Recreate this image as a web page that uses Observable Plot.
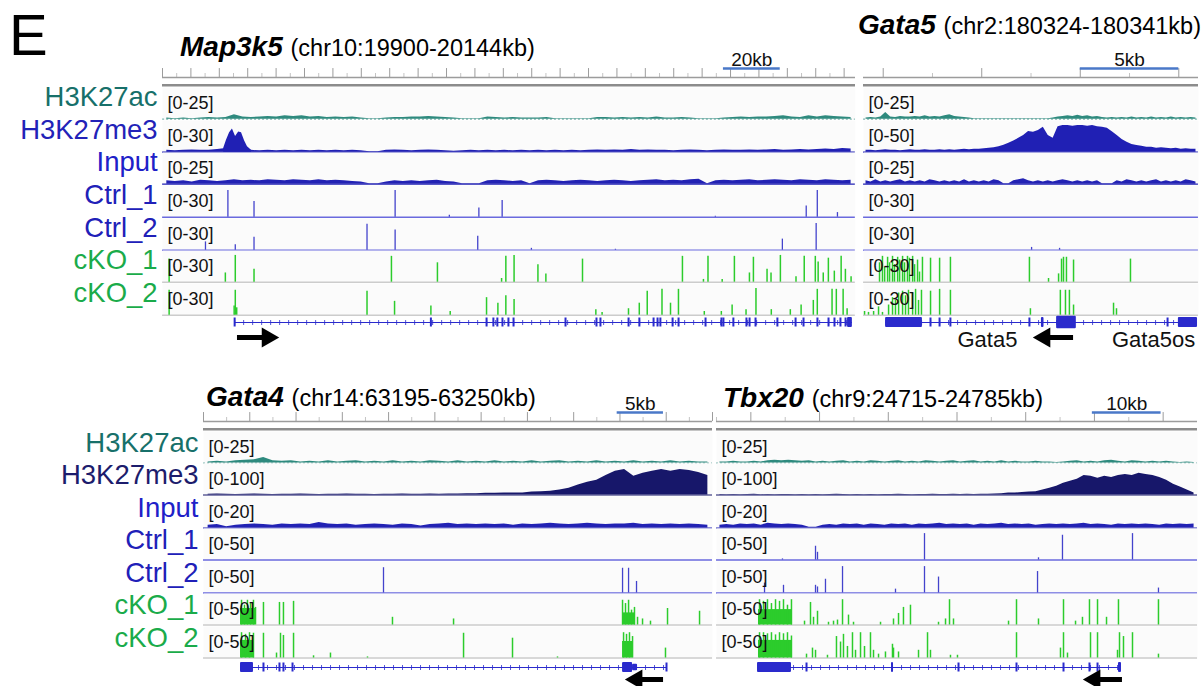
<!DOCTYPE html>
<html><head><meta charset="utf-8">
<script src="https://cdn.jsdelivr.net/npm/d3@7"></script>
<script src="https://cdn.jsdelivr.net/npm/@observablehq/plot@0.6"></script>
<style>
body{margin:0;background:#fff;}
#root{position:relative;width:1203px;height:686px;overflow:hidden;background:#fff;font-family:"Liberation Sans",Arial,sans-serif;}
#root svg{display:block;overflow:visible;}
</style></head>
<body><div id="root"></div>
<script>
// ================= DATA =================
const trackNames = ["H3K27ac","H3K27me3","Input","Ctrl_1","Ctrl_2","cKO_1","cKO_2"];

// ---- Map3k5 (chr10:19900-20144kb); positions = kb offset from window start ----
const map3k5Window = [19900, 20144];
const map3k5Ranges = [25, 30, 25, 30, 30, 30, 30];
const map3k5Ac = [1,0.5,1,0.5,1,1.5,1,1.5,4,2, 1.5,2,2.5,2,3,2.5,3,2,2.5,1.5, 2,1.5,2,1,0.3,0.3,1,1.5,1.5,2, 2,2.5,2,1.5,1,0.3,0.5,0.3,2,1.5, 1,1.5,1,1,1,1.5,0.5,0.3,0.5,0.3, 0.5,1.5,1.5,1,1.5,1,1.5,1,2,1, 1,1.5,1,0.5,0.3,0.5,1,1.5,2,1.5, 2,2,2.5,3,2,1.5,3,2,3,2.5, 2,1.5];
const map3k5Me3 = [2,1.5,2,2.5,2,2,3,4,4,3, 2,1.5,2,1.5,2,1.5,2,1.5,2,1.5, 2,1.5,2,1.5,0.5,0.5,2,2.5,2,1.5, 2,2.5,2,1.5,1,1.5,2,1.5,2,1.5, 2,1.5,2,1.5,2,1.5,2,1.5,2,1.5, 2,2.5,2,2.5,2,3,2,2.5,2,2, 1.5,2,2.5,2,1.5,2,2.5,2,2,2.5, 2,2.5,3,2,2.5,3,2.5,3,3.5,3, 4,3.5];
const map3k5Me3Peak = [[21.5,4],[22.5,13],[23.6,21],[24.6,25],[25.7,17],[26.8,22],[27.8,21],[28.9,12],[29.9,6],[31.3,2]];
const map3k5Input = [3,2.5,3,2,3.5,3,2.5,3,4,3, 3.5,3,4,3.5,3,4,3.5,3,4,3, 3.5,3,2.5,2,0.3,0.3,2,3,2.5,3, 2.5,3,3.5,2.5,2,0.3,0.3,0.3,3,3.5, 3,2.5,3,0.3,3,3.5,3,2.5,3,3.5, 3,2.5,3,3.5,3,2.5,3,3.5,4,3, 3.5,3,4,4.5,0.3,3,3.5,3,3.5,4, 3,3.5,4,3.5,3,4,3.5,3,4,3.5, 3,3.5];
const map3k5Ctrl1 = [[23.0,29],[32.2,17],[81.9,29],[101.0,2],[111.4,10],[119.6,18],[194.7,1],[226.7,12],[230.6,29],[237.7,5]];
const map3k5Ctrl2 = [[15.1,9],[25.6,6],[32.2,14],[72.0,28],[81.9,22],[111.0,15],[129.9,2],[159.5,1],[218.3,12],[230.2,29]];
const map3k5Ko1 = [[2.3,25],[22.1,10],[25.6,29],[32.2,14],[80.6,28],[96.8,21],[119.4,4],[120.9,28],[123.8,29],[132.2,19],[135.0,9],[147.9,25],[183.1,28],[190.5,3],[192.1,28],[197.1,3],[201.4,28],[206.7,10],[208.1,27],[212.9,14],[214.3,10],[217.6,29],[223.1,6],[226.0,28],[229.9,28],[230.9,22],[232.7,10],[234.5,26],[236.6,12],[239.0,28],[240.5,14],[242.5,6]];
const map3k5Ko2 = [[2.3,27],[25.2,10],[25.6,27],[26.1,8],[72.0,26],[81.7,15],[94.5,10],[101.3,4],[114.1,19],[118.1,13],[120.9,21],[123.8,17],[152.6,6],[154.8,3],[164.1,7],[167.9,13],[170.7,26],[175.9,28],[178.9,13],[181.7,28],[190.8,4],[196.8,4],[200.6,11],[205.5,6],[209.0,29],[214.4,6],[221.1,6],[224.9,11],[229.2,16],[230.6,28],[235.8,28],[237.3,28],[239.7,28],[241.1,7]];
const map3k5GeneSpan = [25.4, 242.9];
const map3k5Exons = [25.4,94.5,114.1,116.5,117.9,119.7,121.8,123.6,141.9,152.8,154.2,164.1,167.9,172.9,174.3,175.3,179.6,181.7,191.2,196.8,197.5,201.0,205.6,206.7,208.8,216.5,222.9,225.7,230.6,234.5,236.6,238.7,240.5];
const map3k5Blocks = [[241.2,242.9,"cds"]];
const map3k5Arrow = [26.4, 38.4];
const map3k5ScaleBar = [197.5, 20, "20kb"];

// ---- Gata5 (chr2:180324-180341kb) ----
const gata5Window = [180324, 180341];
const gata5Ranges = [25, 50, 25, 30, 30, 30, 30];
const gata5Ac = [1,1.5,1,2,6,2,1.5,2.5,2,2, 2.5,2,3,2,2.5,2,3,4,2.5,2, 1.5,1,0.3,0.5,0.3,0.5,0.3,0.5,0.3,0.5, 0.3,0.5,0.3,0.5,0.3,0.5,0.3,0.5,1,2, 2.5,3,2.5,3.5,2.5,3,2,2.5,1.5,1, 1.5,1,1.5,1,2,1,1.5,1,2,1, 1.5,1,2,1,1.5,1,1.5,1];
const gata5Me3 = [3.5,3.5,2.7,3.5,4.5,3.5,3.5,2.7,3.5,4.5, 3.5,3.5,4.5,3.5,3.5,4.5,3.5,4.5,3.5,4.5, 5.4,4.5,5.4,5.4,6.3,7,8,10,12.5,16, 20,25,30,37.5,36,39,45,30,25,46, 48,48,47,48,48,47,48,46,45,43, 37,30,23,18,14,12,10.5,9,9,7, 8,7,6.3,7,5.4,6.3,5.4,5.4];
const gata5Input = [3,2,4,2,3,2,3,4,2,3, 2,3,2,4,3,2,3,2,3,2, 4,2,3,2,3,2,4,3,0.5,0.5, 3,4,5,3,2,3,2,3,2,3, 4,3,2,3,2,3,2,3,0.5,0.5, 0.5,3,2,4,3,2,3,2,3,4, 2,3,2,3,2,4,3,2];
const gata5Ctrl1 = [];
const gata5Ctrl2 = [[8.53,3],[9.95,2]];
const gata5Ko1 = [[0.81,21],[0.96,28],[1.07,16],[1.22,27],[1.32,21],[1.47,28],[1.57,19],[1.73,27],[1.83,24],[1.98,28],[2.08,21],[2.23,28],[2.33,26],[2.49,28],[2.59,19],[2.74,24],[2.84,11],[2.99,27],[3.40,26],[3.86,26],[4.41,27],[8.42,27],[9.39,4],[9.90,9],[10.05,25],[10.15,27],[10.30,27],[10.66,24],[13.55,25]];
const gata5Ko2 = [[0.05,4],[0.25,3],[0.51,4],[0.76,9],[0.96,3],[1.27,11],[1.47,19],[1.62,16],[1.78,24],[1.98,26],[2.13,21],[2.28,27],[2.49,24],[2.64,28],[2.79,16],[2.94,27],[3.40,26],[3.86,28],[4.41,27],[8.47,7],[9.99,27],[10.25,27],[10.45,27],[10.66,11],[12.69,13],[12.84,7]];
const gata5GeneSpan = [1.12, 16.95];
const gata5Exons = [3.40, 3.86, 4.41, 8.42, 15.43];
const gata5Blocks = [[1.12,2.99,"cds"],[9.03,9.16,"cds"],[9.8,10.8,"big"],[15.98,16.95,"cds"]];
const gata5Arrow = [10.66, 8.98];
const gata5GeneLabels = [["Gata5", 6.29], ["Gata5os", 14.72]];
const gata5ScaleBar = [11.0, 5, "5kb"];

// ---- Gata4 (chr14:63195-63250kb) ----
const gata4Window = [63195, 63250];
const gata4Ranges = [25, 100, 20, 50, 50, 50, 50];
const gata4Ac = [1,1.5,1,2,2.5,3,5,2,1.5,2, 1,1.5,1,2,1,1.5,2,1,1.5,1, 2,1,1.5,1,2,1.5,1,2,1,1.5, 1,2,1,1.5,1,2,1,1.5,2,1, 1.5,1,2,1,1.5,1,2,1,1.5,1, 2,1,1.5,1,1];
const gata4Me3 = [3,4,3,2,3,4,3,2,3,3, 4,3,2,3,3,4,3,3,2,3, 3,4,3,3,4,3,4,4,5,5, 6,6,7,7,7,11,12,14,18,25, 36,46,54,71,86,93,68,79,86,93, 86,93,89,82,71];
const gata4Input = [2,2.5,1,2,2.5,3,2.5,2,3,2.5, 3,2.5,4,3,2.5,3,2,2.5,3,2.5, 2,3,2.5,1.5,2.5,3,3.5,2.5,3,2.5, 3,2.5,3,2,3,2.5,3,3.5,3,2.5, 3,3.5,3,2.5,3,3,3.5,2.5,3,2.5, 3,2.5,3,2.5,2];
const gata4Ctrl1 = [];
const gata4Ctrl2 = [[19.45,46],[45.28,45],[45.93,45],[46.79,21]];
const gata4Ko1 = [[4.11,45],[4.43,36],[4.75,45],[5.08,39],[5.40,45],[5.62,32],[6.48,41],[8.21,41],[8.64,41],[9.73,43],[20.42,14],[27.02,11],[45.28,45],[45.60,39],[45.93,45],[46.25,27],[46.57,32],[46.90,14],[47.44,11],[48.30,7],[50.14,30],[53.60,25]];
const gata4Ko1Blocks = [[4.0,5.62,30],[45.28,46.68,22]];
const gata4Ko2 = [[4.11,46],[4.54,43],[4.97,46],[5.40,45],[6.48,45],[7.89,9],[8.32,45],[8.64,41],[9.73,45],[11.89,4],[13.72,9],[17.72,2],[28.10,45],[33.39,36],[38.25,2],[45.39,46],[45.71,43],[46.03,46],[46.36,39],[49.92,18]];
const gata4Ko2Blocks = [[4.0,5.5,32],[45.28,46.4,30]];
const gata4GeneSpan = [4.0, 50.03];
const gata4Exons = [6.48, 8.21, 8.64, 9.62, 50.03];
const gata4Blocks = [[4.0,5.40,"cds"],[45.28,46.36,"cds"],[46.36,46.90,"utr"]];
const gata4Arrow = [49.71, 46.36];
const gata4ScaleBar = [44.7, 5, "5kb"];

// ---- Tbx20 (chr9:24715-24785kb) ----
const tbx20Window = [24715, 24785];
const tbx20Ranges = [25, 100, 20, 50, 50, 50, 50];
const tbx20Ac = [1,1,1.5,1,1,1.5,1,2,2.5,2, 2.5,2,1.5,2,1,1.5,1,1.5,2,1, 1.5,1,2,1.5,1,1.5,2,1,1.5,1, 2,1.5,1,1.5,2,1,1.5,2,1,1.5, 1,2,1,1.5,1,1,1.5,1,1,0.5, 1,1.5,2,1,1.5,1,2,2.5,1.5,1, 2,1.5,1,1.5,1,1.5,1,0.5,1,0.5];
const tbx20Me3 = [2,1,2,1,2,3,1,2,1,2, 2,1,2,1,2,1,2,3,2,1, 2,1,2,1,2,2,3,2,1,2, 2,3,2,2,3,2,3,2,3,3, 4,5,7,7,9,11,12,18,25,32, 43,50,57,71,68,61,68,64,71,75, 71,79,75,71,64,54,39,29,18,7];
const tbx20Input = [2,2.5,2,3,2.5,3,2,3.5,3,2.5, 3,2.5,2,0.5,0.5,2,2.5,2,3,2.5, 3,2,3,2.5,2,3,2.5,3,2,3, 2.5,3,3.5,2.5,3,2.5,3,2,3,2.5, 3,3.5,2.5,3,2.5,3,2,2.5,3,2.5, 3,2.5,3,3.5,2.5,3,2.5,2,3,2.5, 3,2.5,3,2.5,2,3,2.5,3,2.5,3];
const tbx20Ctrl1 = [[9.60,2],[14.41,25],[14.70,14],[30.27,48],[46.86,4],[50.35,45],[60.54,48]];
const tbx20Ctrl2 = [[6.99,18],[9.75,14],[14.41,14],[14.70,11],[15.86,25],[18.34,48],[26.05,7],[30.27,48],[32.31,29],[46.72,39],[64.32,9]];
const tbx20Ko1 = [[6.26,46],[6.84,43],[7.42,46],[8.00,39],[8.59,46],[9.17,43],[9.75,46],[10.33,36],[10.91,46],[12.81,7],[13.68,41],[14.12,14],[14.70,25],[16.30,5],[17.03,7],[17.61,9],[18.34,46],[19.21,18],[19.94,5],[23.87,5],[25.76,11],[26.49,21],[27.21,32],[28.23,36],[32.31,5],[33.33,11],[33.91,46],[34.49,11],[42.50,7],[43.66,46],[46.86,11],[50.50,46],[52.25,7],[53.26,14],[54.28,46],[55.45,46],[56.76,14],[58.50,46],[64.32,46]];
const tbx20Ko1Blocks = [[6.11,11.06,28]];
const tbx20Ko2 = [[6.26,46],[6.84,46],[7.42,44],[8.00,46],[8.59,42],[9.17,46],[9.75,44],[10.33,46],[10.91,40],[13.10,7],[13.97,18],[14.41,14],[16.15,5],[17.46,39],[18.05,29],[18.48,43],[19.06,21],[19.79,46],[20.23,14],[20.96,46],[21.54,21],[22.41,46],[22.85,14],[23.58,7],[24.59,11],[25.61,25],[25.76,18],[26.49,11],[29.40,14],[30.71,46],[31.14,14],[34.05,5],[35.07,5],[43.66,46],[50.06,18],[50.50,46],[51.08,9],[54.43,46],[55.45,46],[58.36,14],[58.65,46],[59.23,39],[60.54,46],[64.32,7]];
const tbx20Ko2Blocks = [[6.11,11.06,32]];
const tbx20GeneSpan = [5.97, 58.94];
const tbx20Exons = [13.10, 35.22, 43.66, 50.50, 54.28, 55.45];
const tbx20Blocks = [[5.97,10.91,"cds"],[25.47,25.76,"cds"],[58.50,58.94,"cds"]];
const tbx20Arrow = [59.08, 54.43];
const tbx20ScaleBar = [54.7, 10, "10kb"];

const panelTitles = [
  ["Map3k5", "(chr10:19900-20144kb)"],
  ["Gata5", "(chr2:180324-180341kb)"],
  ["Gata4", "(chr14:63195-63250kb)"],
  ["Tbx20", "(chr9:24715-24785kb)"]
];

// ================= STYLE / LAYOUT =================
const FONT = '"Liberation Sans", Arial, sans-serif';
const C = {
  ac: "#2e8a7e", acLabel: "#17706a",
  me3Top: "#2020b4", me3TopLabel: "#2222b8",
  me3Bot: "#17176a", me3BotLabel: "#1c1c6c",
  input: "#2222b4", inputLabel: "#2020c8",
  ctrl: "#4343cc", ctrlBase: "#6a6ade", ctrlLabel: "#2020b8",
  ko: "#2ccc2c", koBase: "#cccccc", koLabel: "#1aab4a",
  gene: "#2a2acc", ruler: "#9c9c9c", scale: "#4a78c8", bg: "#fbfbfb"
};
const topRow = {top: 50, trackH: 32.7, labelDy: -7, geneH: 38, geneDomain: [-6.4, 1.2], arrowY: -3, geneLabelY: -3.4, me3: C.me3Top, me3Label: C.me3TopLabel};
const botRow = {top: 393.5, trackH: 32.5, labelDy: -5, geneH: 30, geneDomain: [-4.2, 1.8], arrowY: -2.4, geneLabelY: -3.4, me3: C.me3Bot, me3Label: C.me3BotLabel};

const panels = [
  {row: topRow, left: 0, x0: 162, x1: 855, labels: true, tickStep: 10, title: {left: 180, baseline: 57},
   window: map3k5Window, ranges: map3k5Ranges, ac: map3k5Ac, me3: map3k5Me3, me3Peak: map3k5Me3Peak, input: map3k5Input,
   ctrl1: map3k5Ctrl1, ctrl2: map3k5Ctrl2, ko1: map3k5Ko1, ko2: map3k5Ko2, ko1Blocks: [], ko2Blocks: [],
   gene: {span: map3k5GeneSpan, exons: map3k5Exons, blocks: map3k5Blocks, arrow: map3k5Arrow, labels: []}, scaleBar: map3k5ScaleBar, titleText: panelTitles[0]},
  {row: topRow, left: 858, x0: 863, x1: 1198, labels: false, tickStep: 5, title: {left: 858, baseline: 35},
   window: gata5Window, ranges: gata5Ranges, ac: gata5Ac, me3: gata5Me3, me3Peak: [], input: gata5Input,
   ctrl1: gata5Ctrl1, ctrl2: gata5Ctrl2, ko1: gata5Ko1, ko2: gata5Ko2, ko1Blocks: [], ko2Blocks: [],
   gene: {span: gata5GeneSpan, exons: gata5Exons, blocks: gata5Blocks, arrow: gata5Arrow, labels: gata5GeneLabels}, scaleBar: gata5ScaleBar, titleText: panelTitles[1]},
  {row: botRow, left: 0, x0: 203, x1: 712, labels: true, tickStep: 5, title: {left: 206, baseline: 407},
   window: gata4Window, ranges: gata4Ranges, ac: gata4Ac, me3: gata4Me3, me3Peak: [], input: gata4Input,
   ctrl1: gata4Ctrl1, ctrl2: gata4Ctrl2, ko1: gata4Ko1, ko2: gata4Ko2, ko1Blocks: gata4Ko1Blocks, ko2Blocks: gata4Ko2Blocks,
   gene: {span: gata4GeneSpan, exons: gata4Exons, blocks: gata4Blocks, arrow: gata4Arrow, labels: []}, scaleBar: gata4ScaleBar, titleText: panelTitles[2]},
  {row: botRow, left: 713, x0: 716, x1: 1197, labels: false, tickStep: 10, title: {left: 723, baseline: 408},
   window: tbx20Window, ranges: tbx20Ranges, ac: tbx20Ac, me3: tbx20Me3, me3Peak: [], input: tbx20Input,
   ctrl1: tbx20Ctrl1, ctrl2: tbx20Ctrl2, ko1: tbx20Ko1, ko2: tbx20Ko2, ko1Blocks: tbx20Ko1Blocks, ko2Blocks: tbx20Ko2Blocks,
   gene: {span: tbx20GeneSpan, exons: tbx20Exons, blocks: tbx20Blocks, arrow: tbx20Arrow, labels: []}, scaleBar: tbx20ScaleBar, titleText: panelTitles[3]}
];

// ================= RENDER =================
const root = document.getElementById("root");

function div(css, html) {
  const d = document.createElement("div");
  d.style.cssText = css;
  if (html != null) d.innerHTML = html;
  root.appendChild(d);
  return d;
}

// panel letter
div(`position:absolute;left:9px;top:${55 - 0.3465 * 58}px;line-height:0;font-size:58px;font-family:${FONT};color:#000`, "E");

function renderPanel(P) {
  const R = P.row;
  const [s, e] = P.window;
  const at = d => s + d;
  const box = div(`position:absolute;left:${P.left}px;top:${R.top}px;`);
  const base = (height) => ({
    width: P.x1 + 3 - P.left, height,
    marginLeft: P.x0 - P.left, marginRight: 3, marginTop: 0, marginBottom: 0,
    x: {domain: [s, e], axis: null},
    style: {fontFamily: FONT, background: "transparent", overflow: "visible"}
  });
  const add = svg => { svg.style.display = "block"; box.appendChild(svg); };

  // ruler with scale bar
  const step = P.tickStep;
  const major = d3.range(Math.ceil(s / step) * step, e + 1e-9, step);
  const minor = d3.range(Math.ceil(s / (step / 2)) * (step / 2), e, step / 2).filter(v => !major.includes(v));
  const sb = P.scaleBar;
  add(Plot.plot({
    ...base(37),
    y: {domain: [-1.1, 3], range: [37, 0], axis: null},
    marks: [
      Plot.ruleX(major, {y1: 0, y2: 1, stroke: C.ruler, strokeWidth: 1}),
      Plot.ruleX(minor, {y1: 0, y2: 0.45, stroke: "#c4c4c4", strokeWidth: 1}),
      Plot.ruleY([0], {stroke: C.ruler, strokeWidth: 1.5}),
      Plot.ruleY([-0.85], {stroke: "#8c8c8c", strokeWidth: 2.6}),
      Plot.ruleY([sb], {x1: d => at(d[0]), x2: d => at(d[0] + d[1]), y: 1, stroke: C.scale, strokeWidth: 2.5}),
      Plot.text([sb], {x: d => at(d[0] + d[1] / 2), y: 1.3, text: d => d[2], lineAnchor: "bottom", fontSize: 19, fill: "#111"})
    ]
  }));

  const tracks = [
    {bins: P.ac, area: [], color: C.ac, label: C.acLabel, dash: "2,2", baseOp: 0.6},
    {bins: P.me3, area: P.me3Peak, color: R.me3, label: R.me3Label, dash: null, baseOp: 1},
    {bins: P.input, area: [], color: C.input, label: C.inputLabel, dash: null, baseOp: 1},
    {peaks: P.ctrl1, blocks: [], color: C.ctrl, base: C.ctrlBase, label: C.ctrlLabel, sw: 1.3},
    {peaks: P.ctrl2, blocks: [], color: C.ctrl, base: C.ctrlBase, label: C.ctrlLabel, sw: 1.3},
    {peaks: P.ko1, blocks: P.ko1Blocks, color: C.ko, base: C.koBase, label: C.koLabel, sw: 1.5},
    {peaks: P.ko2, blocks: P.ko2Blocks, color: C.ko, base: C.koBase, label: C.koLabel, sw: 1.5}
  ];

  tracks.forEach((tr, i) => {
    const h = R.trackH;
    const max = P.ranges[i];
    const cap = v => Math.min(v, max);
    const marks = [Plot.frame({fill: C.bg, stroke: null})];
    if (tr.bins) {
      const k = (e - s) / tr.bins.length;
      marks.push(Plot.areaY(tr.bins, {x: (d, j) => s + (j + 0.5) * k, y: d => cap(d), fill: tr.color, curve: "linear"}));
      if (tr.area.length) marks.push(Plot.areaY(tr.area, {x: d => at(d[0]), y: d => cap(d[1]), fill: tr.color, curve: "linear"}));
      marks.push(Plot.ruleY([0], {stroke: tr.color, strokeWidth: 1.2, strokeOpacity: tr.baseOp, strokeDasharray: tr.dash}));
    } else {
      marks.push(Plot.ruleY([0], {stroke: tr.base, strokeWidth: 1.4}));
      if (tr.blocks.length) marks.push(Plot.rectY(tr.blocks, {x1: d => at(d[0]), x2: d => at(d[1]), y: d => cap(d[2]), fill: tr.color}));
      marks.push(Plot.ruleX(tr.peaks, {x: d => at(d[0]), y1: 0, y2: d => cap(d[1]), stroke: tr.color, strokeWidth: tr.sw}));
    }
    marks.push(Plot.text([`[0-${max}]`], {frameAnchor: "left", dx: 5, dy: -1, fontSize: 18, fill: "#111", textAnchor: "start"}));
    if (P.labels) marks.push(Plot.text([trackNames[i]], {frameAnchor: "left", dx: -5, dy: R.labelDy, textAnchor: "end", fontSize: 27.5, fill: tr.label}));
    add(Plot.plot({...base(h), y: {domain: [0, max], range: [h - 1, 4], axis: null}, marks}));
  });

  // gene annotation row
  const G = P.gene;
  const half = t => t === "big" ? 1.25 : t === "cds" ? 1 : 0.65;
  const dir = G.arrow[1] > G.arrow[0] ? 1 : -1;
  const gMarks = [
    Plot.ruleY([G.span], {x1: d => at(d[0]), x2: d => at(d[1]), y: 0, stroke: C.gene, strokeWidth: 1.2}),
    Plot.ruleY([G.span], {x1: d => at(d[0]), x2: d => at(d[1]), y: 0, stroke: C.gene, strokeWidth: 5, strokeDasharray: "1,8", strokeOpacity: 0.8}),
    Plot.ruleX(G.exons, {x: d => at(d), y1: -0.9, y2: 0.9, stroke: C.gene, strokeWidth: 2}),
    Plot.rect(G.blocks, {x1: d => at(d[0]), x2: d => at(d[1]), y1: d => -half(d[2]), y2: d => half(d[2]), fill: C.gene, rx: 1}),
    Plot.ruleY([G.arrow], {x1: d => at(d[0]), x2: d => at(d[1]), y: R.arrowY, stroke: "#000", strokeWidth: 5}),
    Plot.dot([G.arrow], {x: d => at(d[1]), y: R.arrowY, symbol: "triangle", r: 7.5, rotate: dir * 90, fill: "#000", stroke: null, dx: -dir * 4})
  ];
  if (G.labels.length) gMarks.push(Plot.text(G.labels, {x: d => at(d[1]), y: R.geneLabelY, text: d => d[0], fontSize: 22, fill: "#111"}));
  const gh = R.geneH;
  add(Plot.plot({...base(gh), y: {domain: R.geneDomain, range: [gh, 0], axis: null}, marks: gMarks}));

  // title above the panel
  const [gName, region] = P.titleText;
  div(`position:absolute;left:${P.title.left}px;top:${P.title.baseline - 0.3465 * 28}px;line-height:0;font-size:28px;white-space:nowrap;font-family:${FONT};color:#000`,
      `<b><i>${gName}</i></b> <span style="font-size:23.5px">${region}</span>`);
}

panels.forEach(renderPanel);
</script>
</body></html>
